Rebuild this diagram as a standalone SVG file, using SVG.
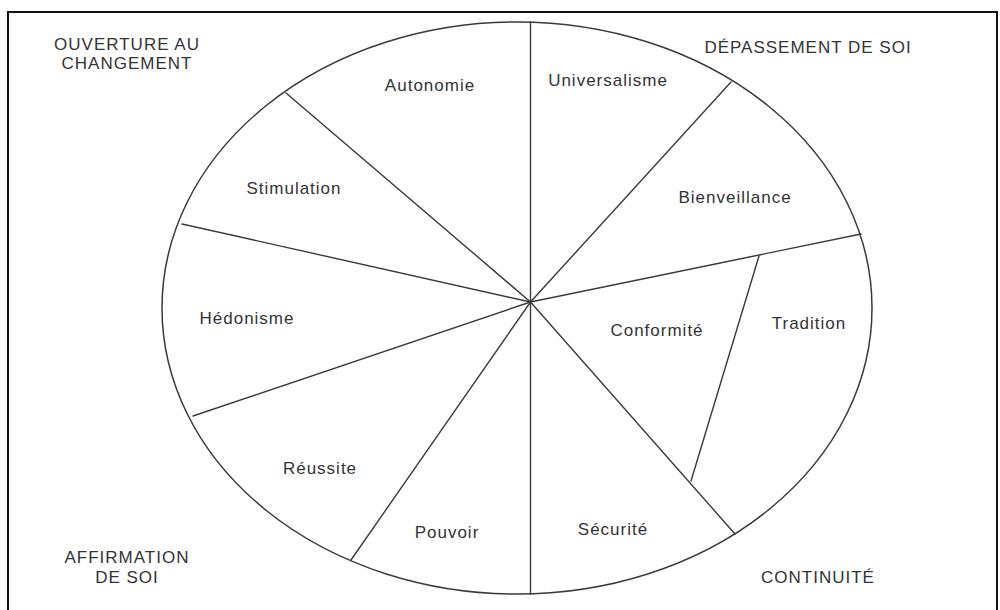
<svg xmlns="http://www.w3.org/2000/svg" width="1000" height="610" viewBox="0 0 1000 610">
  <style>
    .frame { fill: none; stroke: #111; stroke-width: 2; }
    .wheel { fill: #fff; stroke: #3a3a3a; stroke-width: 1.5; }
    .spoke { stroke: #3a3a3a; stroke-width: 1.4; fill: none; stroke-linecap: round; }
    .lbl { font-family: "Liberation Sans", Arial, sans-serif; font-size: 17px; letter-spacing: 1px; fill: #333; text-anchor: middle; }
  </style>
  <rect width="1000" height="610" fill="#fff"/>
  <rect class="frame" x="8" y="12" width="989" height="610"/>
  <g id="wheel">
    <ellipse class="wheel" cx="517" cy="308" rx="355" ry="286"/>
  </g>
  <g id="connectors">
    <line class="spoke" x1="530.5" y1="302" x2="530.5" y2="22"/>
    <line class="spoke" x1="530.5" y1="302" x2="731" y2="82"/>
    <line class="spoke" x1="530.5" y1="302" x2="861" y2="234"/>
    <line class="spoke" x1="530.5" y1="302" x2="735" y2="534"/>
    <line class="spoke" x1="530.5" y1="302" x2="530.5" y2="594"/>
    <line class="spoke" x1="530.5" y1="302" x2="351" y2="560"/>
    <line class="spoke" x1="530.5" y1="302" x2="193" y2="416"/>
    <line class="spoke" x1="530.5" y1="302" x2="182" y2="224"/>
    <line class="spoke" x1="530.5" y1="302" x2="286" y2="93"/>
    <line class="spoke" x1="759" y1="256" x2="691" y2="481"/>
  </g>
  <g id="autonomie"><text class="lbl" x="430" y="91">Autonomie</text></g>
  <g id="universalisme"><text class="lbl" x="608" y="86">Universalisme</text></g>
  <g id="stimulation"><text class="lbl" x="294" y="194">Stimulation</text></g>
  <g id="bienveillance"><text class="lbl" x="735" y="203">Bienveillance</text></g>
  <g id="hedonisme"><text class="lbl" x="247" y="324">Hédonisme</text></g>
  <g id="conformite"><text class="lbl" x="657" y="336">Conformité</text></g>
  <g id="tradition"><text class="lbl" x="809" y="329">Tradition</text></g>
  <g id="reussite"><text class="lbl" x="320" y="474">Réussite</text></g>
  <g id="pouvoir"><text class="lbl" x="447" y="538">Pouvoir</text></g>
  <g id="securite"><text class="lbl" x="613" y="535">Sécurité</text></g>
  <g id="ouverture"><text class="lbl" x="127" y="50">OUVERTURE AU</text><text class="lbl" x="127" y="69">CHANGEMENT</text></g>
  <g id="depassement"><text class="lbl" x="808" y="53">DÉPASSEMENT DE SOI</text></g>
  <g id="affirmation"><text class="lbl" x="127" y="563">AFFIRMATION</text><text class="lbl" x="127" y="583">DE SOI</text></g>
  <g id="continuite"><text class="lbl" x="818" y="583">CONTINUITÉ</text></g>
</svg>
